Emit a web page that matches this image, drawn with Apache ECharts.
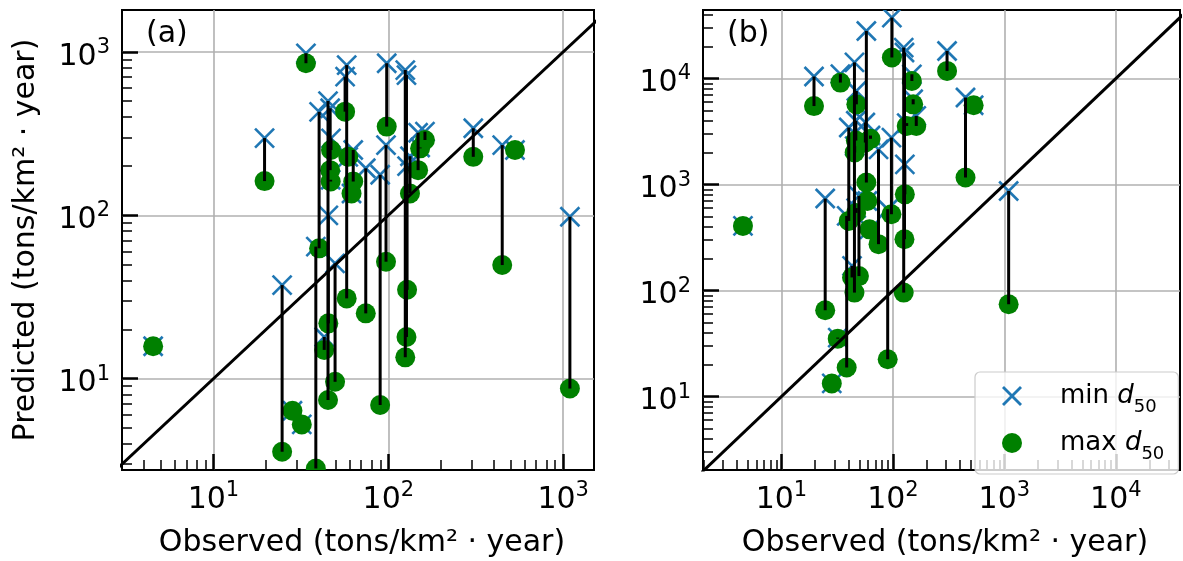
<!DOCTYPE html>
<html>
<head>
<meta charset="utf-8">
<script src="https://cdn.jsdelivr.net/npm/echarts@6/dist/echarts.min.js"></script>
<style>
  html, body { margin: 0; padding: 0; background: #ffffff; }
  #chart { width: 1183px; height: 561px; }
</style>
</head>
<body>
<div id="chart"></div>
<script>
// Observed sediment yield per site (tons/km^2 · year)
const observed = [4.52, 19.6, 24.7, 28.3, 32, 33.8, 38.5, 40.2, 43, 45.2, 45.4, 47, 46.5, 46.8, 49.6,
  56.6, 57.8, 59, 61.6, 63, 74.3, 89.8, 97, 97.9, 125, 127, 128, 133, 148, 152, 162, 306, 448, 530, 1092];

// Model (a): predictions with the smallest and the largest d50
const predMinD50_a = [15.8, 297, 37.4, 6.36, 5.25, 981, 64.3, 430, 18, 500, 100, 296, 452, 165, 50.8,
  706, 831, 228, 136, 251, 194, 177, 269, 853, 774, 722, 200, 230, 320, 260, 325, 341, 269, 251, 98];
const predMaxD50_a = [15.8, 162, 3.57, 6.36, 5.25, 853, 2.82, 62.8, 15, 7.4, 21.8, 251, 189, 161, 9.57,
  431, 31, 228, 136, 161, 25.1, 6.9, 52, 349, 13.5, 18, 35, 136, 189, 257, 289, 228, 49.6, 251, 8.7];

// Model (b): predictions with the smallest and the largest d50
const predMinD50_b = [407, 10450, 738, 13.3, 36, 11000, 506, 3450, 171, 14200, 2300, 7630, 4000, 600, 781,
  3850, 28100, 700, 378, 2900, 2150, 585, 2775, 37600, 19600, 17600, 1550, 3800, 10960, 6380, 4440,
  18200, 6620, 5600, 870];
const predMaxD50_b = [407, 5500, 65.2, 13.3, 35.2, 9160, 18.8, 454, 133, 95.7, 2005, 5710, 2600, 540, 137,
  2490, 1045, 700, 378, 2700, 274, 22.5, 525, 15800, 95.7, 305, 809, 3570, 9480, 5710, 3570,
  11800, 1165, 5600, 74.3];

// Decade exponents that carry a label (10^n)
const xDecades_a = [1, 2, 3];
const yDecades_a = [1, 2, 3];
const xDecades_b = [1, 2, 3, 4];
const yDecades_b = [1, 2, 3, 4];

// Axis limits (raw units)
const xLim_a = [3.0, 1500];
const yLim_a = [2.76, 1806];
const xLim_b = [1.98, 37600];
const yLim_b = [2.03, 44300];

const FONT = 'DejaVu Sans';
const BLUE = '#1f77b4';
const GREEN = '#008000';
const lg = Math.log10;

// Minor tick positions (log10 of 2..9 times each decade) inside a range
function minorTicks(lim) {
  const out = [];
  const lo = Math.floor(lg(lim[0])), hi = Math.ceil(lg(lim[1]));
  for (let e = lo; e <= hi; e++) {
    for (let m = 2; m <= 9; m++) {
      const v = m * Math.pow(10, e);
      if (v > lim[0] && v < lim[1]) out.push(lg(v));
    }
  }
  return out;
}

const labelRich = {
  b: { fontFamily: FONT, fontSize: 30, lineHeight: 40, color: '#000' },
  s: { fontFamily: FONT, fontSize: 21, lineHeight: 14, verticalAlign: 'top', color: '#000' }
};
const powLabel = v => '{b|10}{s|' + Math.round(v) + '}';

function majorAxis(grid, lim, decades, isX) {
  return {
    gridIndex: grid, type: 'value', min: lg(lim[0]), max: lg(lim[1]),
    position: isX ? 'bottom' : 'left',
    axisLine: { show: false },
    axisTick: { show: true, inside: true, length: 16, customValues: decades,
      lineStyle: { color: '#000', width: 2.5 } },
    axisLabel: { show: true, customValues: decades, formatter: powLabel, rich: labelRich,
      margin: isX ? 10 : 12, padding: isX ? 0 : [10, 0, 0, 0] },
    splitLine: { show: true, lineStyle: { color: '#b0b0b0', width: 1.6 } }
  };
}
function minorAxis(grid, lim, isX) {
  return {
    gridIndex: grid, type: 'value', min: lg(lim[0]), max: lg(lim[1]),
    position: isX ? 'bottom' : 'left',
    axisLine: { show: false },
    axisTick: { show: true, inside: true, length: 10, customValues: minorTicks(lim),
      lineStyle: { color: '#000', width: 1.5 } },
    axisLabel: { show: false },
    splitLine: { show: false }
  };
}

// Marks drawn through the axis scales
function crossItem(params, api) {
  const p = api.coord([api.value(0), api.value(1)]);
  const r = 9.5;
  const st = { stroke: BLUE, lineWidth: 2.6, fill: null };
  return { type: 'group', children: [
    { type: 'line', shape: { x1: p[0] - r, y1: p[1] - r, x2: p[0] + r, y2: p[1] + r }, style: st },
    { type: 'line', shape: { x1: p[0] - r, y1: p[1] + r, x2: p[0] + r, y2: p[1] - r }, style: st }
  ] };
}
function dotItem(params, api) {
  const p = api.coord([api.value(0), api.value(1)]);
  return { type: 'circle', shape: { cx: p[0], cy: p[1], r: 10 }, style: { fill: GREEN } };
}
function stemItem(params, api) {
  const a = api.coord([api.value(0), api.value(1)]);
  const b = api.coord([api.value(0), api.value(2)]);
  return { type: 'line', shape: { x1: a[0], y1: a[1], x2: b[0], y2: b[1] },
    style: { stroke: '#000', lineWidth: 3 } };
}

function panelSeries(axisIdx, predMin, predMax) {
  const xs = observed.map(lg);
  return [
    { name: 'min d50', type: 'custom', xAxisIndex: axisIdx, yAxisIndex: axisIdx, clip: true, z: 3,
      itemStyle: { color: BLUE }, renderItem: crossItem,
      data: xs.map((x, i) => [x, lg(predMin[i])]) },
    { name: 'max d50', type: 'custom', xAxisIndex: axisIdx, yAxisIndex: axisIdx, clip: true, z: 4,
      itemStyle: { color: GREEN }, renderItem: dotItem,
      data: xs.map((x, i) => [x, lg(predMax[i])]) },
    { type: 'custom', xAxisIndex: axisIdx, yAxisIndex: axisIdx, clip: true, z: 5,
      renderItem: stemItem,
      data: xs.map((x, i) => [x, lg(predMin[i]), lg(predMax[i])]) },
    { type: 'line', xAxisIndex: axisIdx, yAxisIndex: axisIdx, clip: true, z: 6, symbol: 'none',
      silent: true, lineStyle: { color: '#000', width: 3 },
      data: [[-2, -2], [6, 6]] }
  ];
}

const crossIcon = 'path://M0,0.1 L0.1,0 L0.5,0.4 L0.9,0 L1,0.1 L0.6,0.5 L1,0.9 L0.9,1 L0.5,0.6 L0.1,1 L0,0.9 L0.4,0.5 Z';
const legendRich = {
  n: { fontFamily: FONT, fontSize: 26, lineHeight: 24, color: '#000' },
  i: { fontFamily: FONT, fontSize: 26, fontStyle: 'italic', lineHeight: 24, color: '#000' },
  sub: { fontFamily: FONT, fontSize: 18, lineHeight: 10, padding: [14, 0, 0, 0],
    verticalAlign: 'top', color: '#000' }
};

const TITLE_FONT = '30px "DejaVu Sans"';
const chart = echarts.init(document.getElementById('chart'), null, { renderer: 'canvas' });
chart.setOption({
  animation: false,
  backgroundColor: '#ffffff',
  grid: [
    { left: 122, top: 10, width: 472, height: 460, show: true, borderColor: '#000', borderWidth: 2,
      backgroundColor: 'transparent', containLabel: false },
    { left: 703, top: 10, width: 477, height: 460, show: true, borderColor: '#000', borderWidth: 2,
      backgroundColor: 'transparent', containLabel: false }
  ],
  xAxis: [
    majorAxis(0, xLim_a, xDecades_a, true), majorAxis(1, xLim_b, xDecades_b, true),
    minorAxis(0, xLim_a, true), minorAxis(1, xLim_b, true)
  ],
  yAxis: [
    majorAxis(0, yLim_a, yDecades_a, false), majorAxis(1, yLim_b, yDecades_b, false),
    minorAxis(0, yLim_a, false), minorAxis(1, yLim_b, false)
  ],
  legend: {
    left: 975, top: 372, orient: 'vertical',
    itemWidth: 20, itemHeight: 20, itemGap: 14,
    padding: [11, 14, 11, 27],
    backgroundColor: 'rgba(255,255,255,0.8)', borderColor: '#cccccc', borderWidth: 1.2, borderRadius: 5,
    data: [{ name: 'min d50', icon: crossIcon }, { name: 'max d50', icon: 'circle' }],
    formatter: name => '{n|' + name.slice(0, 3) + ' }{i|d}{sub|50}',
    textStyle: { rich: legendRich, padding: [0, 0, 0, 33] }
  },
  graphic: [
    { type: 'text', x: 146, y: 34, style: { text: '(a)', font: TITLE_FONT, fill: '#000',
      align: 'left', verticalAlign: 'middle' } },
    { type: 'text', x: 727, y: 34, style: { text: '(b)', font: TITLE_FONT, fill: '#000',
      align: 'left', verticalAlign: 'middle' } },
    { type: 'text', x: 362, y: 543, style: { text: 'Observed (tons/km² · year)', font: TITLE_FONT,
      fill: '#000', align: 'center', verticalAlign: 'middle' } },
    { type: 'text', x: 945, y: 543, style: { text: 'Observed (tons/km² · year)', font: TITLE_FONT,
      fill: '#000', align: 'center', verticalAlign: 'middle' } },
    { type: 'text', x: 26, y: 240, rotation: Math.PI / 2, style: { text: 'Predicted (tons/km² · year)',
      font: TITLE_FONT, fill: '#000', align: 'center', verticalAlign: 'middle' } }
  ],
  series: [].concat(
    panelSeries(0, predMinD50_a, predMaxD50_a),
    panelSeries(1, predMinD50_b, predMaxD50_b)
  )
});
</script>
</body>
</html>
